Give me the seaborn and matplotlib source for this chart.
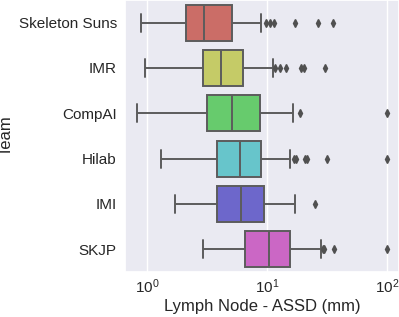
import matplotlib
matplotlib.use("Agg")
import matplotlib.pyplot as plt
import seaborn as sns
import pandas as pd

teams = ["Skeleton Suns", "IMR", "CompAI", "Hilab", "IMI", "SKJP"]

skeleton_suns = [0.88, 1.2, 1.45, 1.6, 1.75, 1.9, 2.0, 2.11, 2.3, 2.45, 2.6, 2.7, 2.8, 2.9,
                 2.96, 3.2, 3.5, 3.8, 4.1, 4.5, 4.8, 5.04, 8.9, 9.7, 10.5, 11.4, 17.0, 26.3, 35.7]
imr = [0.955, 1.5, 1.9, 2.2, 2.45, 2.65, 2.8, 2.93, 3.1, 3.3, 3.5, 3.7, 3.9, 4.05,
       4.14, 4.4, 4.7, 5.0, 5.4, 5.8, 6.1, 6.26, 11.1, 11.7, 12.7, 14.3, 19.3, 20.2, 30.2]
compai = [0.826, 1.5, 2.0, 2.4, 2.7, 2.9, 3.0, 3.12, 3.5, 3.9, 4.2, 4.5, 4.8, 5.0,
          5.11, 5.6, 6.1, 6.7, 7.3, 7.9, 8.4, 8.74, 9.5, 10.5, 12.0, 14.0, 16.3, 18.8, 99.0]
hilab = [1.31, 2.0, 2.5, 2.9, 3.2, 3.5, 3.7, 3.8, 4.2, 4.6, 5.0, 5.3, 5.6, 5.8,
         5.96, 6.4, 6.9, 7.4, 7.9, 8.3, 8.6, 8.8, 15.5, 16.7, 17.3, 20.5, 21.5, 31.6, 99.0]
imi = [1.71, 2.2, 2.6, 2.9, 3.2, 3.5, 3.7, 3.83, 4.2, 4.6, 5.0, 5.4, 5.7, 5.9,
       6.03, 6.6, 7.2, 7.8, 8.4, 8.9, 9.2, 9.44, 10.5, 11.5, 12.5, 14.0, 15.5, 17.2, 25.1]
skjp = [2.94, 3.8, 4.5, 5.1, 5.6, 6.0, 6.3, 6.55, 7.2, 7.9, 8.5, 9.1, 9.6, 10.0,
        10.3, 11.0, 11.8, 12.6, 13.4, 14.2, 14.9, 15.4, 18.0, 22.0, 28.3, 29.3, 29.8, 36.1, 99.0]

series = [skeleton_suns, imr, compai, hilab, imi, skjp]
rows = []
for t, vals in zip(teams, series):
    for v in vals:
        rows.append({"Team": t, "ASSD": v})
df = pd.DataFrame(rows)

sns.set_theme(style="darkgrid")
plt.rcParams["font.family"] = ["Liberation Sans", "DejaVu Sans"]
plt.rcParams["mathtext.fontset"] = "custom"
plt.rcParams["mathtext.rm"] = "Liberation Sans"
plt.rcParams["mathtext.it"] = "Liberation Sans:italic"
plt.rcParams["mathtext.bf"] = "Liberation Sans:bold"

fig = plt.figure(figsize=(3.99, 3.17), dpi=100)
ax = fig.add_axes([0.313, 0.142, 0.687, 0.858])

sns.boxplot(data=df, x="ASSD", y="Team", hue="Team", order=teams, hue_order=teams,
            palette="hls", saturation=0.75, width=0.8, linewidth=1.4, legend=False,
            flierprops=dict(marker="d", markersize=4, markerfacecolor="#505050",
                            markeredgecolor="#505050"),
            ax=ax)
ax.set_xscale("log")
ax.set_xlabel("Lymph Node - ASSD (mm)", fontsize=12, labelpad=2)
ax.set_ylabel("Team", fontsize=12)
ax.yaxis.set_label_coords(-0.405, 0.5)
ax.tick_params(axis="x", which="both", length=0, labelsize=11, pad=4)
ax.tick_params(axis="y", length=0, labelsize=11, pad=5.8)
ax.grid(False, axis="y")
ax.grid(False, which="minor")

fig.savefig("out.png", dpi=100)
